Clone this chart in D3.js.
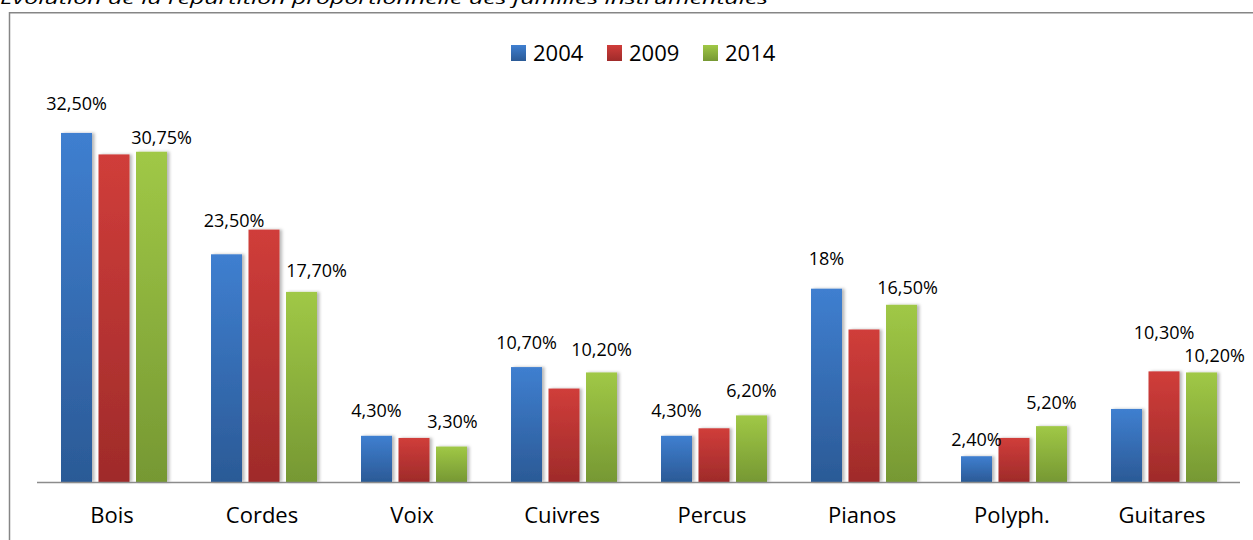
<!DOCTYPE html>
<html><head><meta charset="utf-8">
<script src="https://cdn.jsdelivr.net/npm/d3@7"></script>
<style>html,body{margin:0;padding:0;background:#fff;overflow:hidden}</style>
</head><body>
<script>
// ---- data ----
const categories = ["Bois","Cordes","Voix","Cuivres","Percus","Pianos","Polyph.","Guitares"];
const seriesNames = ["2004","2009","2014"];
const values2004 = [32.5, 21.2, 4.3, 10.7, 4.3, 18.0, 2.4, 6.8];
const values2009 = [30.5, 23.5, 4.1, 8.7, 5.0, 14.2, 4.1, 10.3];
const values2014 = [30.75, 17.7, 3.3, 10.2, 6.2, 16.5, 5.2, 10.2];
// data labels: [category index, series index, text]
const labelCats   = [0, 0, 1, 1, 2, 2, 3, 3, 4, 4, 5, 5, 6, 6, 7, 7];
const labelSeries = [0, 2, 1, 2, 0, 2, 0, 2, 0, 2, 0, 2, 0, 2, 1, 2];
const labelTexts  = ["32,50%","30,75%","23,50%","17,70%","4,30%","3,30%","10,70%","10,20%","4,30%","6,20%","18%","16,50%","2,40%","5,20%","10,30%","10,20%"];
const title = "Évolution de la répartition proportionnelle des  familles instrumentales";

// ---- layout / style ----
const W = 1253, H = 540;
const plot = {left: 37, right: 1237, baseline: 482};
const pxPerUnit = 10.74;
const colors = [
  {top:"#3f7fd0", bot:"#2b5a96"},
  {top:"#d03d3a", bot:"#9f2b2a"},
  {top:"#a0c846", bot:"#769833"}
];
// manual label offsets (dx from bar centre, lift of text centre above bar top)
const labelDx   = [0, 10, -30, 15, 0, 1, 0, 0, 0, 0, 0, 6, 0, 0, 0, 13];
const labelLift = [29, 14, 9, 21, 25, 25, 24, 23, 25, 25, 30, 17, 17, 24, 39, 17];
const labelRef  = [0, 2, 1, 2, 0, 2, 0, 2, 0, 2, 0, 2, 0, 2, 1, 2];

const seriesValues = [values2004, values2009, values2014];

const svg = d3.select("body").append("svg").attr("width", W).attr("height", H)
  .style("font-family", "'Open Sans', sans-serif");

const defs = svg.append("defs");
colors.forEach((c, i) => {
  const g = defs.append("linearGradient").attr("id", "g" + i)
    .attr("x1", 0).attr("y1", 0).attr("x2", 0).attr("y2", 1);
  g.append("stop").attr("offset", "0%").attr("stop-color", c.top);
  g.append("stop").attr("offset", "100%").attr("stop-color", c.bot);
});
const f = defs.append("filter").attr("id", "sh").attr("x", "-20%").attr("y", "-10%").attr("width", "150%").attr("height", "120%");
f.append("feDropShadow").attr("dx", 2.5).attr("dy", 0).attr("stdDeviation", 1.6)
  .attr("flood-color", "#000").attr("flood-opacity", 0.28);

// title (cut off at top)
svg.append("text").attr("x", 0).attr("y", 3.5)
  .attr("font-size", 17).attr("font-style", "italic").attr("fill", "#000")
  .attr("textLength", 768).attr("lengthAdjust", "spacingAndGlyphs")
  .text(title);

// chart border
svg.append("rect").attr("x", 9.5).attr("y", 12.75).attr("width", W + 20).attr("height", H + 20)
  .attr("fill", "none").attr("stroke", "#868686").attr("stroke-width", 1.5);

// scales
const x0 = d3.scaleBand().domain(categories).range([plot.left, plot.right]).paddingInner(0).paddingOuter(0);
const x1 = d3.scaleBand().domain(seriesNames).range([24, 24 + 3 * 31 + 2 * 6.5]).paddingInner(6.5 / 37.5).paddingOuter(0);
const maxV = 50;
const y = d3.scaleLinear().domain([0, maxV]).range([plot.baseline, plot.baseline - maxV * pxPerUnit]);

// bars
const groups = svg.append("g").selectAll("g").data(categories).join("g")
  .attr("transform", d => `translate(${x0(d)},0)`);
groups.selectAll("rect")
  .data((d, ci) => seriesNames.map((s, si) => ({s, si, v: seriesValues[si][ci]})))
  .join("rect")
  .attr("x", d => x1(d.s))
  .attr("width", x1.bandwidth())
  .attr("y", d => y(d.v))
  .attr("height", d => y(0) - y(d.v))
  .attr("fill", d => `url(#g${d.si})`)
  .attr("filter", "url(#sh)");

// axis line
svg.append("line").attr("x1", plot.left).attr("x2", plot.right + 3)
  .attr("y1", plot.baseline + 0.5).attr("y2", plot.baseline + 0.5)
  .attr("stroke", "#8c8c8c").attr("stroke-width", 1.5);

// x axis labels via d3 axis
const xAxis = d3.axisBottom(x0).tickSize(0).tickPadding(0);
const ax = svg.append("g").attr("transform", `translate(0,${plot.baseline})`).call(xAxis);
ax.select(".domain").remove();
ax.selectAll("text").attr("font-size", 22).attr("font-family", "'Open Sans', sans-serif")
  .attr("fill", "#000").attr("dy", 0).attr("y", 41);

// data labels
labelTexts.forEach((t, i) => {
  const ci = labelCats[i], si = labelSeries[i];
  const v = seriesValues[labelRef[i]][ci];
  const cx = x0(categories[ci]) + x1(seriesNames[si]) + x1.bandwidth() / 2 + labelDx[i];
  const cy = y(v) - labelLift[i];
  svg.append("text").attr("x", cx).attr("y", cy + 6.4)
    .attr("text-anchor", "middle").attr("font-size", 18).attr("fill", "#000")
    .text(t);
});

// legend
const legX = [511, 607, 703];
const leg = svg.append("g");
seriesNames.forEach((s, i) => {
  leg.append("rect").attr("x", legX[i]).attr("y", 45).attr("width", 15).attr("height", 16)
    .attr("fill", `url(#g${i})`);
  leg.append("text").attr("x", legX[i] + 22).attr("y", 61).attr("font-size", 22).attr("fill", "#000").text(s);
});
</script>
</body></html>
